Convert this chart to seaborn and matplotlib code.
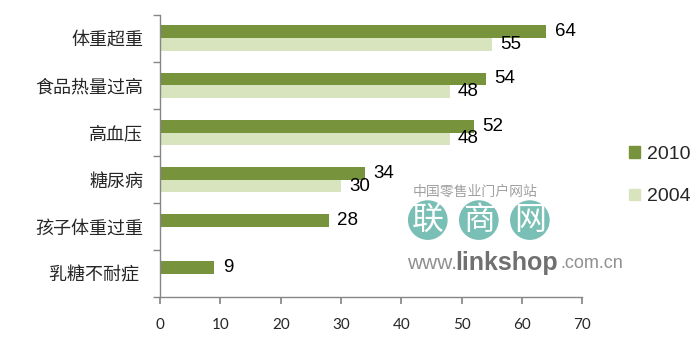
import matplotlib
matplotlib.use("Agg")
import matplotlib.pyplot as plt
import matplotlib.patches as mpatches
import pandas as pd
import seaborn as sns
import numpy as np

# chart data
categories = ["体重超重", "食品热量过高", "高血压", "糖尿病", "孩子体重过重", "乳糖不耐症 "]
years = ["2010", "2004"]
values_2010 = [64, 54, 52, 34, 28, 9]
values_2004 = [55, 48, 48, 30, np.nan, np.nan]
x_ticks = [0, 10, 20, 30, 40, 50, 60, 70]

colors = {"2010": "#77933C", "2004": "#D7E4BD"}

df = pd.DataFrame({
    "category": categories * 2,
    "year": ["2010"] * len(categories) + ["2004"] * len(categories),
    "value": values_2010 + values_2004,
})

sns.set_theme(style="white")
plt.rcParams["font.family"] = ["Noto Sans CJK SC", "DejaVu Sans"]

fig = plt.figure(figsize=(6.99, 3.55), dpi=100)
ax = fig.add_axes([0.229, 0.163, 0.604, 0.795])

sns.barplot(
    data=df, y="category", x="value", hue="year", hue_order=years,
    order=categories, palette=colors, orient="h", width=0.55,
    gap=0, saturation=1, linewidth=0, legend=False, ax=ax,
)

# value labels at bar ends
for cont, yr in zip(ax.containers, years):
    for bar in cont:
        w = bar.get_width()
        if np.isnan(w) or w == 0:
            continue
        ax.text(w + 1.4, bar.get_y() + bar.get_height() / 2, f"{w:.0f}",
                va="center", ha="left", fontsize=13.5,
                family="Liberation Sans", color="black")

ax.set_xlim(0, 70)
ax.set_ylim(len(categories) - 0.5, -0.5)
ax.set_xticks(x_ticks)
ax.set_xticklabels([str(t) for t in x_ticks], family="Lato", fontsize=11)
ax.set_xlabel("")
ax.set_ylabel("")
ax.tick_params(axis="y", length=0, labelsize=13, pad=12)
ax.tick_params(axis="x", length=5, direction="out", color="#868686",
               bottom=True, pad=10)

# category boundary ticks on y axis
ax.set_yticks(np.arange(-0.5, len(categories), 1), minor=True)
ax.tick_params(axis="y", which="minor", length=5, direction="out",
               color="#868686", left=True)

for side in ["top", "right"]:
    ax.spines[side].set_visible(False)
for side in ["left", "bottom"]:
    ax.spines[side].set_color("#868686")
    ax.spines[side].set_linewidth(1)

# watermark
fig.text(0.59, 0.459, "中国零售业门户网站", fontsize=10, color="#a0a0a0",
         ha="left", va="center")
for i, ch in enumerate("联商网"):
    fig.text(0.612 + i * 0.073, 0.38, ch, fontsize=23, color="white",
             ha="center", va="center",
             bbox=dict(boxstyle="circle,pad=0.12", fc="#7ABFB5", ec="none"))
fig.text(0.582, 0.259, "www.", fontsize=15, color="#909090", ha="left",
         va="center", family="Liberation Sans")
fig.text(0.651, 0.259, "linkshop", fontsize=18, color="#707070", ha="left",
         va="center", family="Liberation Sans", weight="bold")
fig.text(0.802, 0.259, ".com.cn", fontsize=13, color="#909090", ha="left",
         va="center", family="Liberation Sans")

# legend
handles = [mpatches.Patch(color=colors[y], label=y) for y in years]
leg = fig.legend(handles=handles, loc="center left",
                 bbox_to_anchor=(0.875, 0.505), frameon=False,
                 prop={"family": "Liberation Sans", "size": 14},
                 handlelength=0.55, handleheight=0.55, handletextpad=0.35,
                 labelspacing=1.3)

fig.savefig("out.png", dpi=100)
